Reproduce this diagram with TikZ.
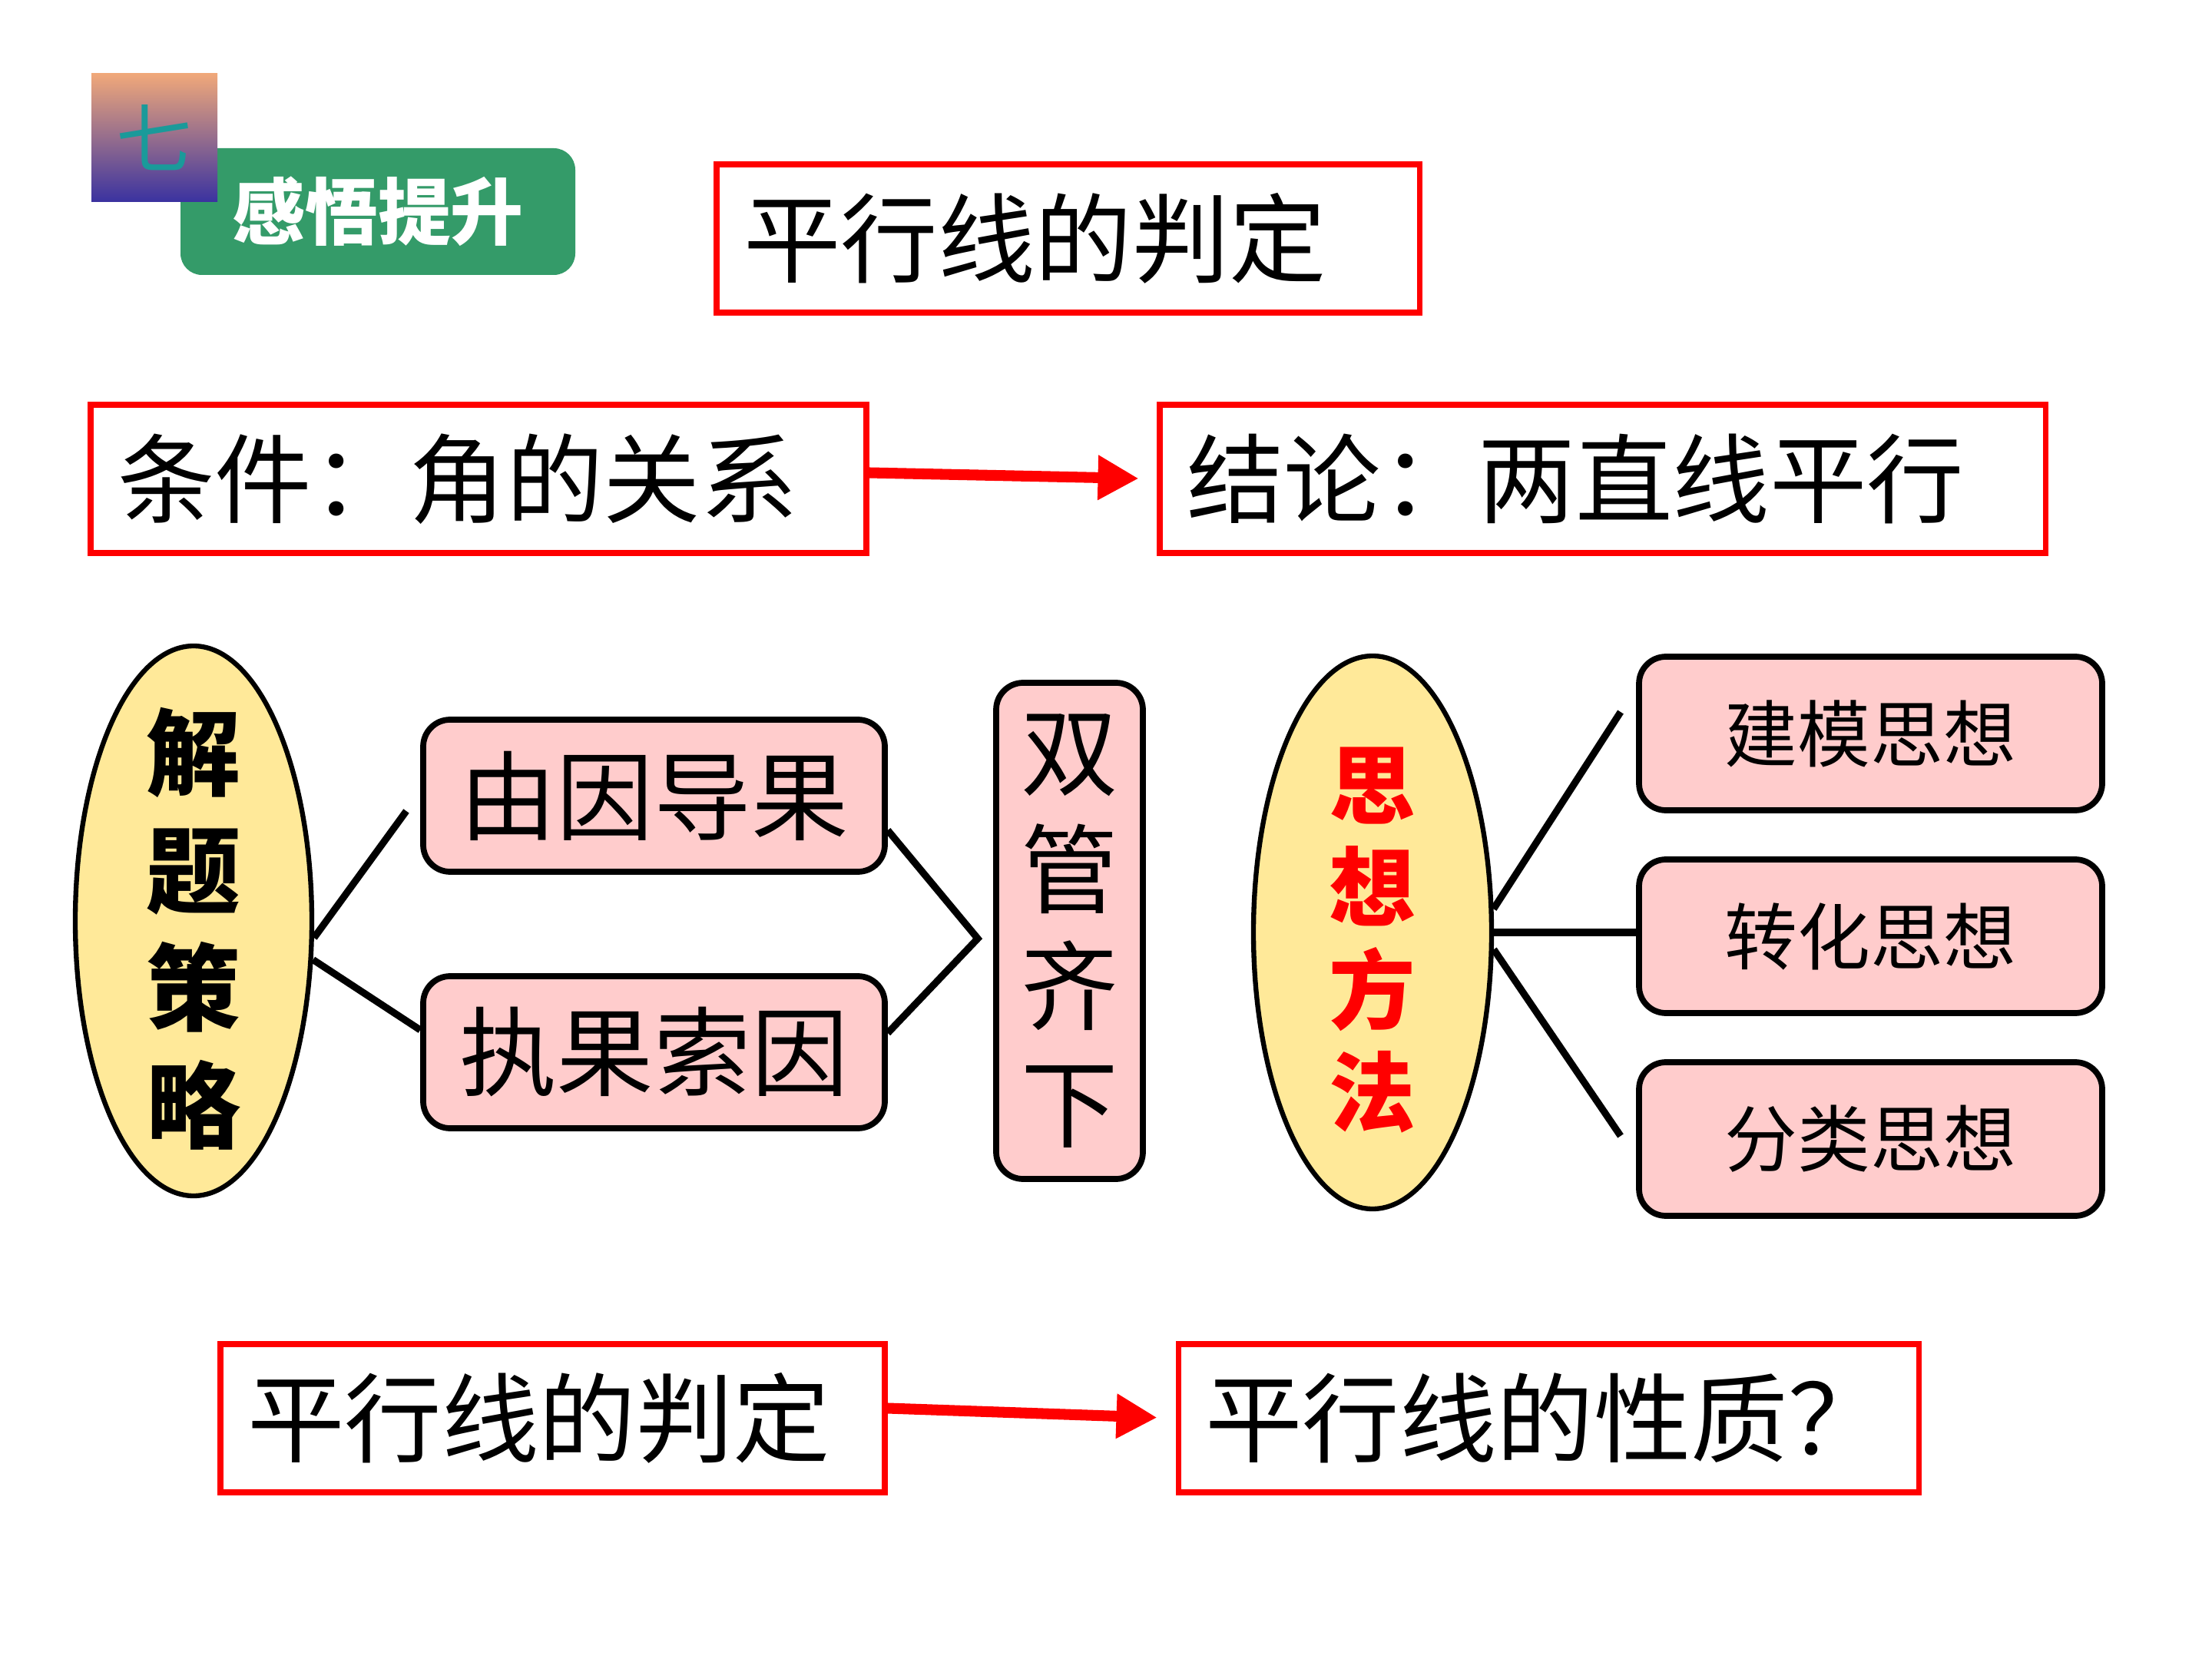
\documentclass[tikz,border=0pt]{standalone}
\usepackage{fontspec}
\setmainfont{Noto Sans CJK SC}
\definecolor{boxred}{RGB}{255,0,0}
\definecolor{pinkfill}{RGB}{255,204,204}
\definecolor{ovalfill}{RGB}{255,233,153}
\definecolor{taggreen}{RGB}{52,155,105}
\definecolor{badgetop}{RGB}{240,168,122}
\definecolor{badgebot}{RGB}{58,50,160}
\definecolor{badgeteal}{RGB}{26,154,154}
\usetikzlibrary{arrows.meta, shapes.geometric}

\begin{document}
\begin{tikzpicture}[
  redbox/.style={draw=boxred, line width=2pt, inner xsep=0.35cm, inner ysep=0pt,
                 minimum height=1.93cm, align=left, font=\fontsize{36}{43}\selectfont},
  pinkbox/.style={draw=black, line width=2.2pt, rounded corners=0.35cm, fill=pinkfill,
                  minimum width=6.01cm, minimum height=1.98cm, align=center,
                  font=\fontsize{36}{43}\selectfont},
  ideabox/.style={pinkbox, minimum width=6.03cm, minimum height=2cm,
                  font=\fontsize{27}{32}\selectfont},
  oval/.style={ellipse, draw=black, line width=1.8pt, fill=ovalfill, inner sep=0pt,
               minimum width=3.08cm, minimum height=7.16cm, align=center},
  link/.style={line width=2.6pt, black},
  arrow/.style={-{Triangle[length=5.3mm, width=5.5mm]}, line width=4pt, boxred},
]
\useasboundingbox (0,0) rectangle (28.8,-21.6);

% header tag
\node[fill=taggreen, rounded corners=0.28cm, minimum width=5.14cm, minimum height=1.65cm,
      text=white, font=\fontsize{27}{27}\selectfont\bfseries] (tag) at (4.92,-2.755)
      {\raisebox{-0.08cm}{感悟提升}};
\node[top color=badgetop, bottom color=badgebot, minimum width=1.64cm, minimum height=1.67cm,
      text=badgeteal, font=\fontsize{28}{28}\selectfont] (num) at (2.01,-1.795)
      {\raisebox{-0.08cm}{七}};

% top row
\node[redbox, text width=8.45cm] (title) at (13.905,-3.105) {平行线的判定};
\node[redbox, text width=9.40cm] (cond) at (6.23,-6.235) {条件：角的关系};
\node[redbox, text width=10.83cm] (concl) at (20.865,-6.235) {结论：两直线平行};
\draw[arrow, shorten >=0.24cm] ([yshift=0.08cm]cond.east) -- (concl.west);

% strategy part
\node[oval, label={[align=center, font=\fontsize{35}{43.5}\selectfont\bfseries, yshift=-0.1cm]center:解\\题\\策\\略}]
      (lell) at (2.52,-11.99) {};
\node[pinkbox] (ygdg) at (8.515,-10.36) {由因导果};
\node[pinkbox] (zgsy) at (8.515,-13.70) {执果索因};
\node[pinkbox, minimum width=1.91cm, minimum height=6.46cm, inner sep=0pt,
      font=\fontsize{36}{43.5}\selectfont] (both) at (13.925,-12.12) {双\\管\\齐\\下};
\coordinate (lend) at (5.29,-10.56);
\coordinate (v) at (12.73,-12.22);
\draw[link] (lell.-8) -- (lend);
\draw[link] (lell.-18) -- ([yshift=0.29cm]zgsy.west);
\draw[link] ([yshift=-0.45cm]ygdg.east) -- (v) -- ([yshift=0.25cm]zgsy.east);

% thinking methods
\node[oval, minimum width=3.1cm, minimum height=7.2cm,
      label={[align=center, text=boxred, font=\fontsize{32}{38}\selectfont\bfseries, yshift=-0.1cm]center:思\\想\\方\\法}]
      (rell) at (17.87,-12.14) {};
\node[ideabox] (jm) at (24.355,-9.55) {建模思想};
\node[ideabox] (zh) at (24.355,-12.19) {转化思想};
\node[ideabox] (fl) at (24.355,-14.83) {分类思想};
\coordinate (rtop) at (21.10,-9.27);
\coordinate (rbot) at (21.10,-14.79);
\draw[link] (rell.11) -- (rtop);
\draw[link] (rell.east) -- (rell.east -| zh.west);
\draw[link] (rell.-8) -- (rbot);

% bottom row
\node[redbox, text width=7.95cm] (pd) at (7.195,-18.465) {平行线的判定};
\node[redbox, text width=8.94cm] (xz) at (20.16,-18.465) {平行线的性质？};
\draw[arrow, shorten >=0.24cm] ([yshift=0.13cm]pd.east) -- (xz.west);
\end{tikzpicture}
\end{document}
